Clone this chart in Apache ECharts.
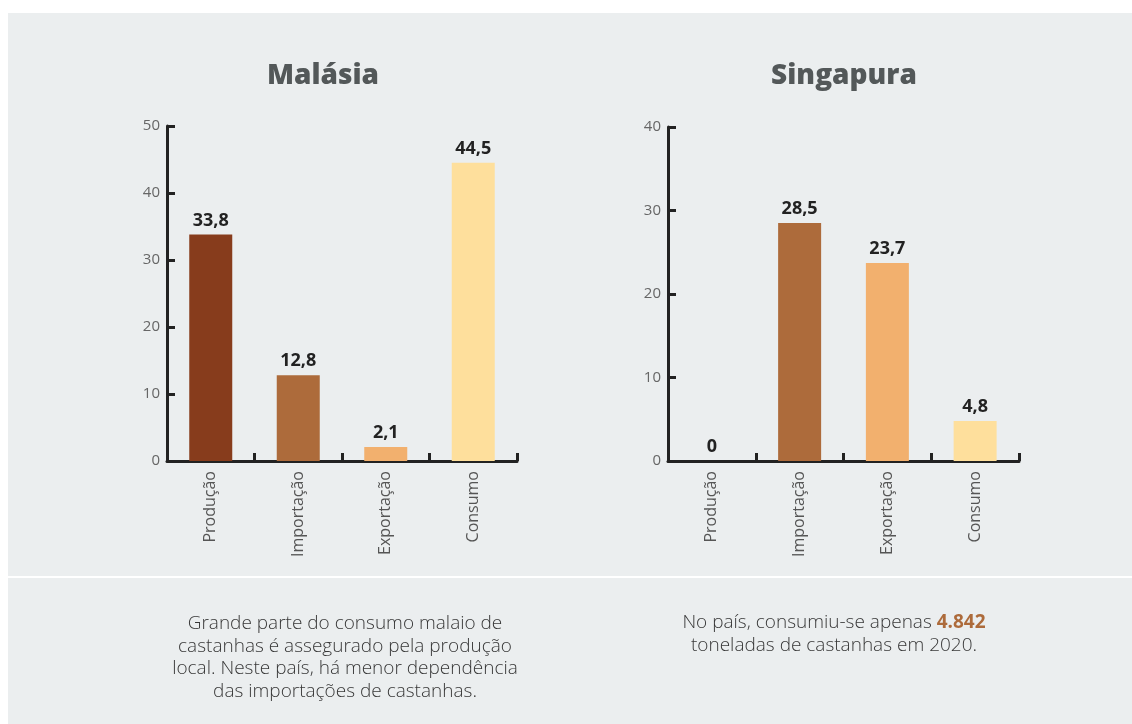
<!DOCTYPE html>
<html>
<head>
<meta charset="utf-8">
<script src="https://cdn.jsdelivr.net/npm/echarts@6/dist/echarts.min.js"></script>
<style>
  html, body { margin: 0; padding: 0; background: #ffffff; }
  #chart { width: 1132px; height: 724px; }
</style>
</head>
<body>
<div id="chart"></div>
<script>
// Castanhas: produção, importação, exportação e consumo (mil toneladas)
const categories = ['Produção', 'Importação', 'Exportação', 'Consumo'];
const malaysiaValues = [33.8, 12.8, 2.1, 44.5];
const singaporeValues = [0, 28.5, 23.7, 4.8];
const malaysiaAxisMax = 50;
const singaporeAxisMax = 40;
const axisStep = 10;

const titles = ['Malásia', 'Singapura'];
const malaysiaNote = [
  'Grande parte do consumo malaio de',
  'castanhas é assegurado pela produção',
  'local. Neste país, há menor dependência',
  'das importações de castanhas.'
];
const singaporeNoteLead = 'No país, consumiu-se apenas ';
const singaporeNoteFigure = '4.842';
const singaporeNoteTail = 'toneladas de castanhas em 2020.';

const barColors = ['#873c1c', '#ad6b3b', '#f2b06e', '#fedf9c'];
const ink = '#222222';
const noteInk = '#383838';
const FONT = '"Open Sans", "DejaVu Sans", sans-serif';

function fmt(v) { return String(v).replace('.', ','); }

function xAxisFor(gridIndex) {
  return {
    type: 'category', gridIndex: gridIndex, data: categories,
    axisLine: { show: true, lineStyle: { color: ink, width: 3 } },
    axisTick: { show: true, inside: true, length: 8, alignWithLabel: false,
                lineStyle: { color: ink, width: 3 } },
    axisLabel: { rotate: 90, margin: 10, color: '#555555', fontSize: 16, fontFamily: FONT },
    splitLine: { show: false }
  };
}
function yAxisFor(gridIndex, max) {
  return {
    type: 'value', gridIndex: gridIndex, min: 0, max: max, interval: axisStep,
    axisLine: { show: true, lineStyle: { color: ink, width: 3 } },
    axisTick: { show: true, inside: true, length: 8, lineStyle: { color: ink, width: 3 } },
    axisLabel: { margin: 7, color: '#666666', fontSize: 15, fontFamily: FONT },
    splitLine: { show: false }
  };
}
function barSeries(index, values) {
  return {
    type: 'bar', xAxisIndex: index, yAxisIndex: index,
    data: values, barWidth: 43,
    itemStyle: { color: function (p) { return barColors[p.dataIndex]; } },
    label: {
      show: true, position: 'top', distance: 5,
      formatter: function (p) { return fmt(p.value); },
      color: ink, fontSize: 18, fontWeight: 'bold', fontFamily: FONT
    },
    emphasis: { disabled: true }
  };
}

const noteStyle = { font: '300 19px ' + FONT, fill: noteInk, textAlign: 'center', textVerticalAlign: 'middle' };
const graphics = [
  { type: 'rect', z: -10, shape: { x: 8, y: 13, width: 1124, height: 711 }, style: { fill: '#ebeeef' } },
  { type: 'rect', z: -9, shape: { x: 8, y: 576, width: 1124, height: 2 }, style: { fill: '#ffffff' } },
  { type: 'text', style: { text: titles[0], x: 323, y: 76, font: '800 28px ' + FONT, fill: '#535859',
      textAlign: 'center', textVerticalAlign: 'middle' } },
  { type: 'text', style: { text: titles[1], x: 844, y: 76, font: '800 28px ' + FONT, fill: '#535859',
      textAlign: 'center', textVerticalAlign: 'middle' } }
];
malaysiaNote.forEach(function (line, i) {
  graphics.push({ type: 'text', style: Object.assign({ text: line, x: 345, y: 624 + i * 22.5 }, noteStyle) });
});
graphics.push({
  type: 'text',
  style: {
    text: '{a|' + singaporeNoteLead + '}{b|' + singaporeNoteFigure + '}',
    x: 834, y: 623, textAlign: 'center', textVerticalAlign: 'middle',
    rich: {
      a: { fontFamily: FONT, fontSize: 19, fontWeight: 300, fill: noteInk },
      b: { fontFamily: FONT, fontSize: 19, fontWeight: 'bold', fill: '#ad6b3b' }
    }
  }
});
graphics.push({ type: 'text', style: Object.assign({ text: singaporeNoteTail, x: 834, y: 645.5 }, noteStyle) });

const chart = echarts.init(document.getElementById('chart'), null, { renderer: 'canvas' });
chart.setOption({
  animation: false,
  backgroundColor: '#ffffff',
  grid: [
    { left: 167, top: 126, width: 350, height: 335 },
    { left: 668, top: 127, width: 351, height: 334 }
  ],
  xAxis: [xAxisFor(0), xAxisFor(1)],
  yAxis: [yAxisFor(0, malaysiaAxisMax), yAxisFor(1, singaporeAxisMax)],
  series: [barSeries(0, malaysiaValues), barSeries(1, singaporeValues)],
  graphic: graphics
});
</script>
</body>
</html>
